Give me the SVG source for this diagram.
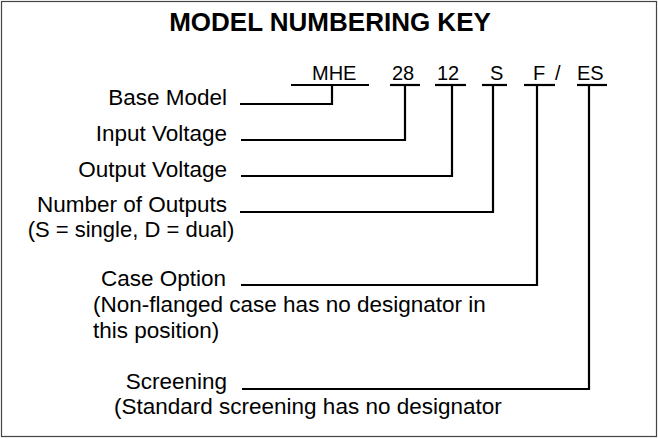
<svg xmlns="http://www.w3.org/2000/svg" width="658" height="439" viewBox="0 0 658 439">
<style>
text{font-family:"Liberation Sans",Arial,sans-serif;fill:#000}
.title{font-size:26px;font-weight:bold}
.code{font-size:20px}
.lbl{font-size:22.5px}
.sub{font-size:22px}
.r{text-anchor:end}
.c{text-anchor:middle}
.ln{fill:none;stroke:#000;stroke-width:2.2}
</style>
<rect x="1.5" y="1.5" width="655" height="435" fill="#fff" stroke="#444" stroke-width="1.2"/>
<g id="title"><text class="title c" x="330" y="31">MODEL NUMBERING KEY</text></g>
<g id="code">
<text class="code" x="312" y="80">MHE</text>
<text class="code" x="392" y="80">28</text>
<text class="code" x="437" y="80">12</text>
<text class="code" x="490" y="80">S</text>
<text class="code" x="533" y="80">F</text>
<text class="code" x="555" y="80">/</text>
<text class="code" x="577" y="80">ES</text>
<g class="ln">
<line x1="291" y1="85" x2="369" y2="85"/>
<line x1="390" y1="85" x2="420" y2="85"/>
<line x1="435" y1="85" x2="466" y2="85"/>
<line x1="482" y1="85" x2="507" y2="85"/>
<line x1="524" y1="85" x2="555" y2="85"/>
<line x1="577" y1="85" x2="607" y2="85"/>
</g>
</g>
<g id="base-model"><text class="lbl r" x="227" y="105">Base Model</text></g>
<g id="input-voltage"><text class="lbl r" x="227" y="141">Input Voltage</text></g>
<g id="output-voltage"><text class="lbl r" x="227" y="177">Output Voltage</text></g>
<g id="number-of-outputs">
<text class="lbl r" x="227" y="212">Number of Outputs</text>
<text class="sub c" x="131" y="237">(S = single, D = dual)</text>
</g>
<g id="case-option">
<text class="lbl r" x="226" y="286">Case Option</text>
<text class="lbl" x="93" y="312">(Non-flanged case has no designator in</text>
<text class="lbl" x="93" y="338">this position)</text>
</g>
<g id="screening">
<text class="lbl r" x="227" y="389">Screening</text>
<text class="lbl" x="114" y="414">(Standard screening has no designator</text>
</g>
<g id="connectors" class="ln">
<polyline points="332,85 332,104 240,104"/>
<polyline points="405,85 405,140 241,140"/>
<polyline points="452,85 452,176 241,176"/>
<polyline points="493,85 493,212 240,212"/>
<polyline points="537,85 537,285 241,285"/>
<polyline points="589,85 589,389 242,389"/>
</g>
</svg>
